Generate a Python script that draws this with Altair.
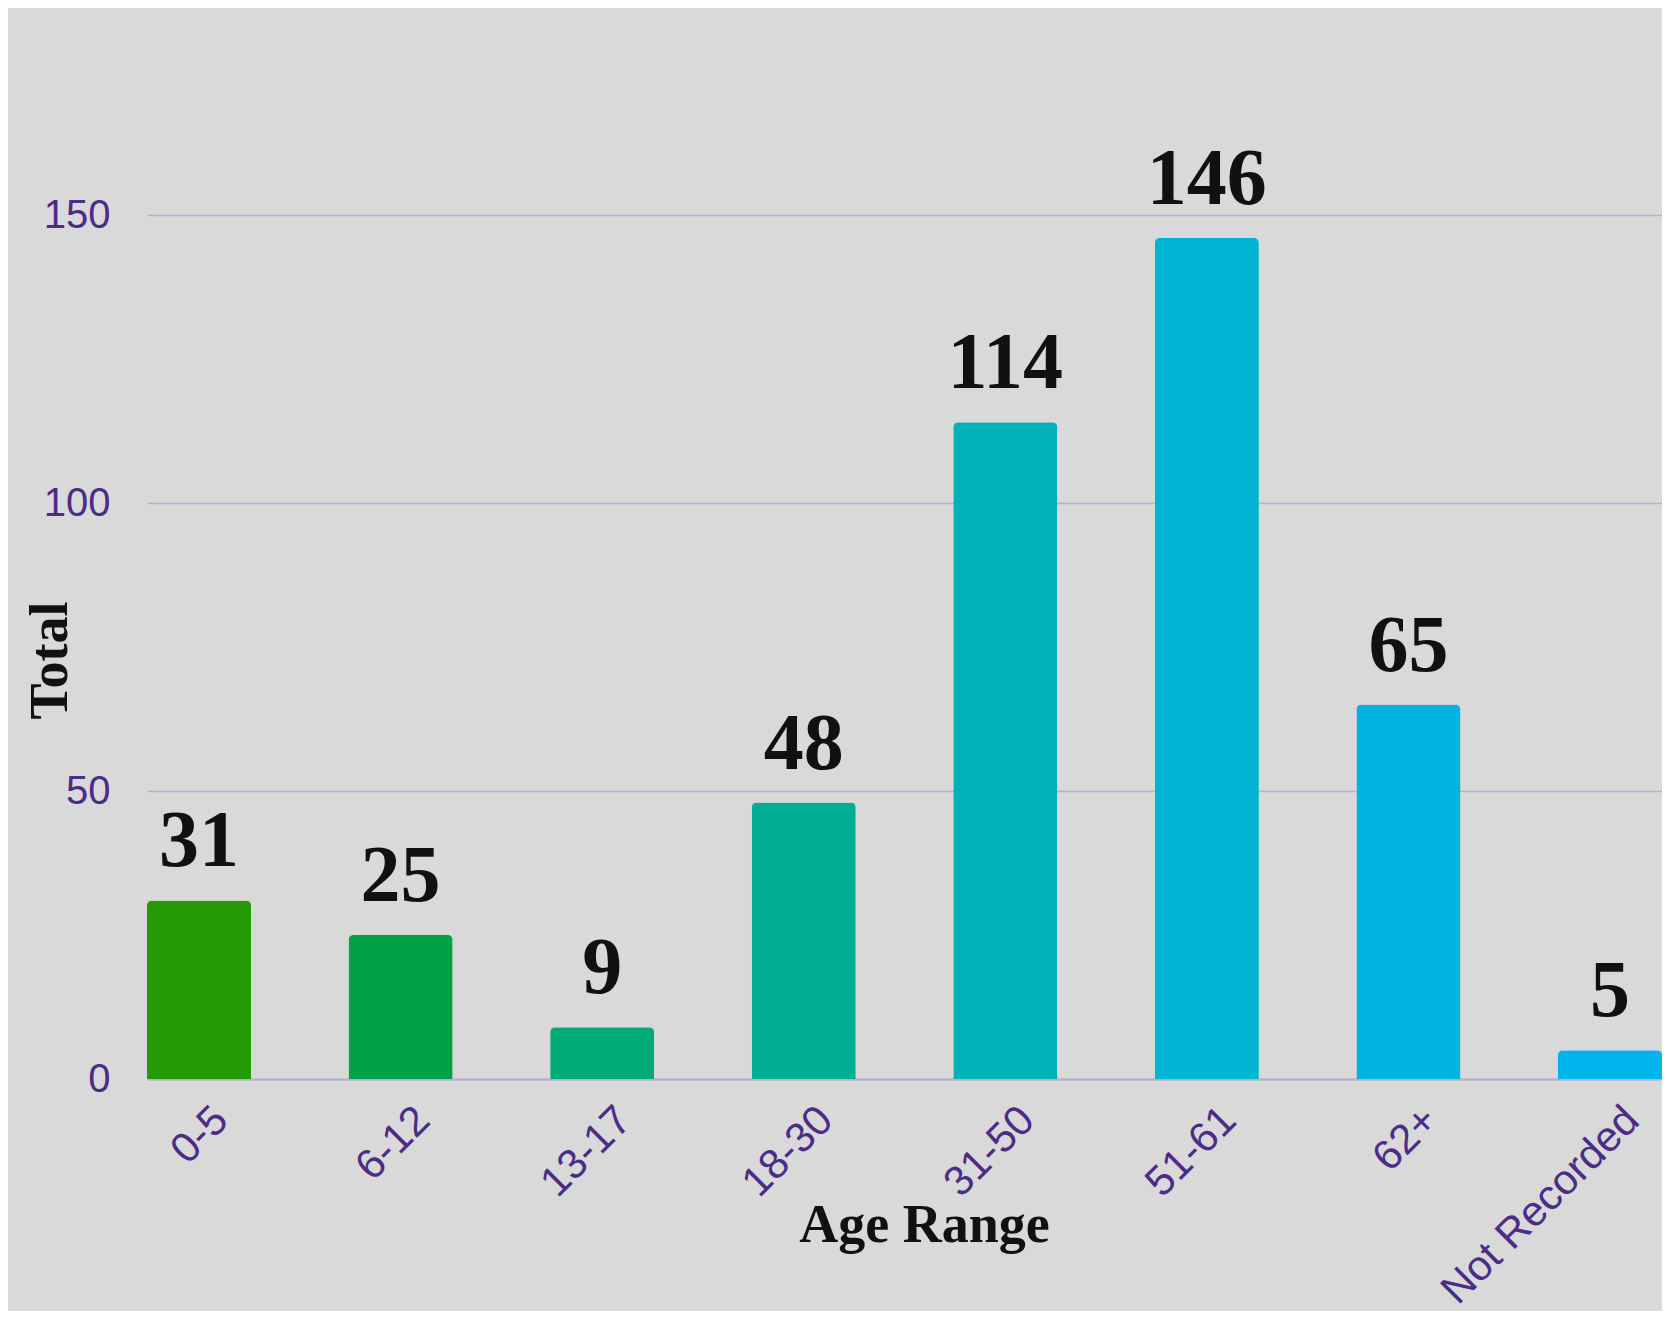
import altair as alt
import pandas as pd

categories = ["0-5", "6-12", "13-17", "18-30", "31-50", "51-61", "62+", "Not Recorded"]
totals = [31, 25, 9, 48, 114, 146, 65, 5]
bar_colors = ["#229b05", "#00a245", "#00aa76", "#00ae96", "#00b2b7", "#00b4d3", "#00b4e2", "#00b3ea"]
y_ticks = [0, 50, 100, 150]

df = pd.DataFrame({"Age Range": categories, "Total": totals})

PURPLE = "#4b2c86"
GRID = "#b9aecf"

x_enc = alt.X(
    "Age Range:N",
    sort=categories,
    scale=alt.Scale(paddingInner=0.484, paddingOuter=0),
    axis=alt.Axis(
        title="Age Range",
        labelAngle=-45,
        labelAlign="right",
        labelBaseline="top",
        labelFont="Liberation Sans",
        labelFontSize=42,
        labelColor=PURPLE,
        labelPadding=20,
        labelOffset=8,
        labelLimit=0,
        labelOverlap=False,
        ticks=False,
        domain=True,
        domainColor=GRID,
        domainWidth=2,
        grid=False,
        titleFont="Liberation Serif",
        titleFontWeight="bold",
        titleFontSize=54,
        titleColor="#111111",
        titleX=777,
        titleY=162,
        titleAlign="center",
        titleBaseline="alphabetic",
        titleAnchor="start",
    ),
)

y_enc = alt.Y(
    "Total:Q",
    scale=alt.Scale(domain=[0, 175], nice=False),
    axis=alt.Axis(
        title="Total",
        values=y_ticks,
        labelFont="Liberation Sans",
        labelFontSize=40,
        labelColor=PURPLE,
        labelPadding=37,
        ticks=False,
        domain=False,
        grid=True,
        gridColor=GRID,
        gridWidth=1.5,
        titleFont="Liberation Serif",
        titleFontWeight="bold",
        titleFontSize=54,
        titleColor="#111111",
        titleAngle=-90,
        titleX=-81,
        titleY=589,
        titleAlign="center",
        titleBaseline="alphabetic",
        titleAnchor="start",
    ),
)

bars = alt.Chart(df).mark_bar(
    cornerRadiusTopLeft=5, cornerRadiusTopRight=5
).encode(
    x=x_enc,
    y=y_enc,
    color=alt.Color("Age Range:N", sort=categories,
                    scale=alt.Scale(domain=categories, range=bar_colors), legend=None),
)

labels = alt.Chart(df).mark_text(
    font="Liberation Serif",
    fontWeight="bold",
    fontSize=80,
    color="#111111",
    align="center",
    baseline="alphabetic",
    dy=-34,
).encode(
    x=alt.X("Age Range:N", sort=categories),
    y=alt.Y("Total:Q"),
    text=alt.Text("Total:Q"),
)

chart = alt.layer(bars, labels).properties(
    width=1515,
    height=1008,
    background="#d9d9d9",
    padding={"left": 139, "top": 63, "right": 0, "bottom": 232},
    autosize=alt.AutoSizeParams(type="none"),
).configure_view(stroke=None)

chart.save("out.html", embed_options={"renderer": "svg", "actions": False})
